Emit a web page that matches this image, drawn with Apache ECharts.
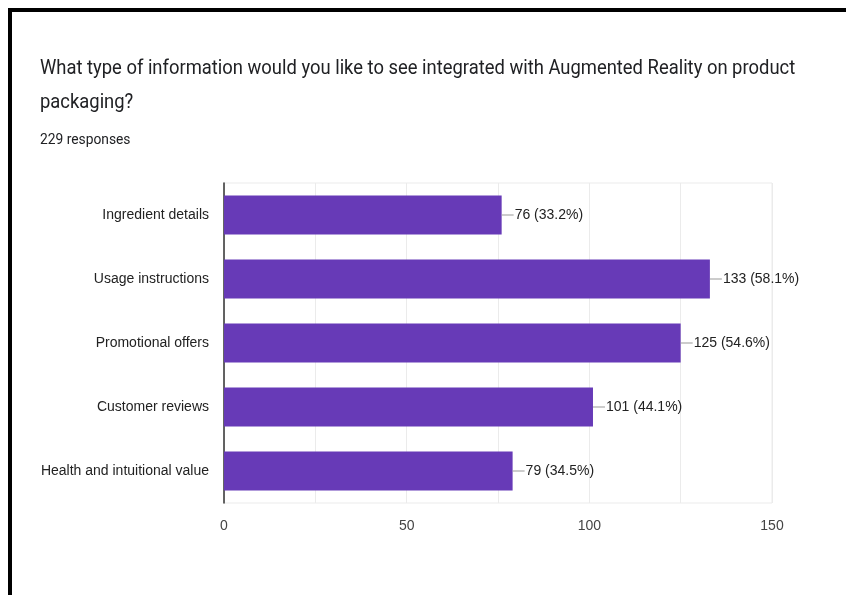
<!DOCTYPE html>
<html>
<head>
<meta charset="utf-8">
<script src="https://cdn.jsdelivr.net/npm/echarts@6/dist/echarts.min.js"></script>
<style>
  html, body { margin: 0; padding: 0; background: #fff; }
  #chart { width: 846px; height: 595px; }
</style>
</head>
<body>
<div id="chart"></div>
<script>
// Survey answers: counts of respondents who picked each option
const questionLine1 = 'What type of information would you like to see integrated with Augmented Reality on product';
const questionLine2 = 'packaging?';
const responseNote = '229 responses';
const categories = [
  'Ingredient details',
  'Usage instructions',
  'Promotional offers',
  'Customer reviews',
  'Health and intuitional value'
];
const counts = [76, 133, 125, 101, 79];
const percents = ['33.2%', '58.1%', '54.6%', '44.1%', '34.5%'];
const axisTicks = [0, 50, 100, 150];

const labelFont = 'Liberation Sans, Arial, sans-serif';
const chart = echarts.init(document.getElementById('chart'));

chart.setOption({
  animation: false,
  backgroundColor: '#fff',
  textStyle: { fontFamily: 'Roboto, Arial, sans-serif' },
  graphic: [
    // black frame edges along the top and left
    { type: 'rect', shape: { x: 8, y: 8, width: 838, height: 4 }, style: { fill: '#000' } },
    { type: 'rect', shape: { x: 8, y: 8, width: 4, height: 587 }, style: { fill: '#000' } },
    // question heading, set in a slightly condensed Roboto
    { type: 'text', x: 40, y: 59, scaleX: 0.92,
      style: { text: questionLine1, font: '400 20px Roboto', fill: '#202124' } },
    { type: 'text', x: 40, y: 93, scaleX: 0.92,
      style: { text: questionLine2, font: '400 20px Roboto', fill: '#202124' } },
    { type: 'text', x: 40, y: 133, scaleX: 0.92,
      style: { text: responseNote, font: '400 15px Roboto', fill: '#202124' } }
  ],
  grid: { left: 224, right: 74, top: 183, bottom: 92, show: true, borderColor: '#ebebeb', borderWidth: 1 },
  xAxis: {
    type: 'value',
    min: 0,
    max: 150,
    interval: 25,
    axisLine: { show: false },
    axisTick: { show: false },
    splitLine: { show: true, lineStyle: { color: '#ebebeb', width: 1 } },
    axisLabel: {
      margin: 16,
      color: '#444',
      fontSize: 14,
      fontFamily: labelFont,
      formatter: v => (axisTicks.indexOf(v) >= 0 ? String(v) : '')
    }
  },
  yAxis: {
    type: 'category',
    data: categories,
    inverse: true,
    axisLine: { show: true, lineStyle: { color: '#333', width: 1.5 } },
    axisTick: { show: false },
    axisLabel: {
      margin: 15,
      color: '#222',
      fontSize: 14,
      fontFamily: labelFont
    }
  },
  series: [{
    type: 'bar',
    data: counts,
    barCategoryGap: '39%',
    itemStyle: { color: '#673ab7' },
    label: {
      show: true,
      position: 'right',
      distance: 0,
      formatter: p => '{ln|}' + '{t|' + p.value + ' (' + percents[p.dataIndex] + ')}',
      rich: {
        ln: { width: 12, height: 1, backgroundColor: '#999' },
        t: { color: '#222', fontSize: 14, fontFamily: labelFont, padding: [0, 0, 0, 1] }
      }
    }
  }]
});
</script>
</body>
</html>
